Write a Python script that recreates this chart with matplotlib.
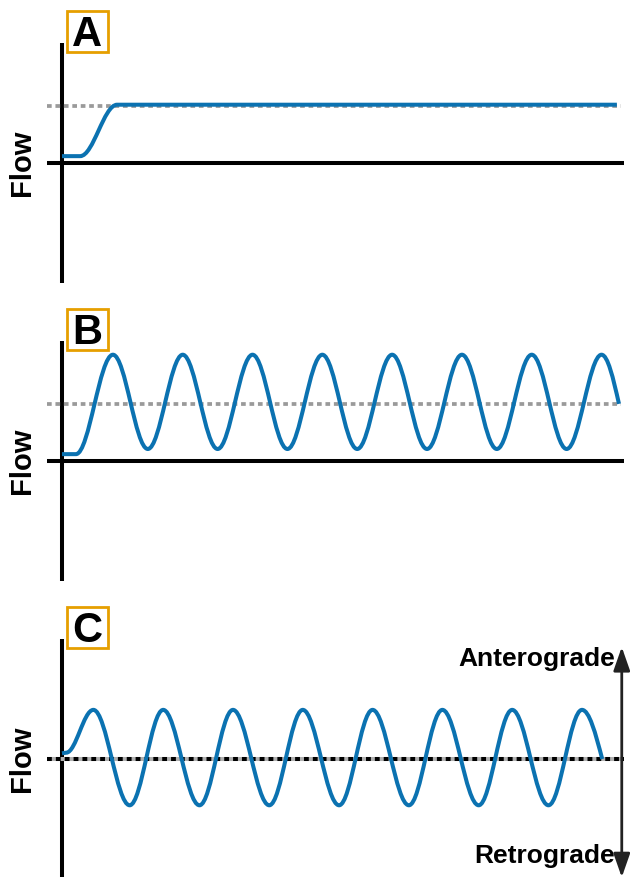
#!/usr/bin/env python3
import matplotlib
matplotlib.use("Agg")
import matplotlib.pyplot as plt
from matplotlib.path import Path
from matplotlib.patches import PathPatch, Rectangle

plt.rcParams['font.family'] = ['Liberation Sans', 'DejaVu Sans']

# time in cycles (one heartbeat = 1), flow in units of the mean flow
# A: steady flow
a_t = [0.0, 0.26, 0.79, 7.95]
a_flow = [0.12, 0.12, 1.02, 1.02]

# B: pulsatile flow, always anterograde
b_t = [0.0, 0.20, 0.73, 1.23, 1.73, 2.23, 2.73, 3.23, 3.73, 4.23, 4.73,
       5.23, 5.73, 6.23, 6.73, 7.23, 7.73, 7.98]
b_flow = [0.12, 0.12, 1.86, 0.21, 1.86, 0.21, 1.86, 0.21, 1.86, 0.21, 1.86,
          0.21, 1.86, 0.21, 1.86, 0.21, 1.86, 1.00]

# C: oscillatory flow around zero
c_t = [0.0, 0.06, 0.45, 0.97, 1.45, 1.97, 2.45, 2.97, 3.45, 3.97, 4.45,
       4.97, 5.45, 5.97, 6.45, 6.97, 7.45, 7.74]
c_flow = [0.10, 0.11, 0.86, -0.81, 0.86, -0.81, 0.86, -0.81, 0.86, -0.81,
          0.86, -0.81, 0.86, -0.81, 0.86, -0.81, 0.86, 0.00]

mean_flow = [1.0, 1.0, 0.0]
panel_labels = ["A", "B", "C"]
direction_labels = ["Anterograde", "Retrograde"]

BLUE = "#0b72b1"
ORANGE = "#e69f00"
GREY = "#9a9a9a"


def smooth_path(xs, ys, tail=False):
    """Join the turning points with S-shaped bezier pieces (flat at each knot)"""
    verts = [(xs[0], ys[0])]
    codes = [Path.MOVETO]
    n = len(xs) - 1
    for i in range(n):
        x0, y0, x1, y1 = xs[i], ys[i], xs[i + 1], ys[i + 1]
        dx = x1 - x0
        if tail and i == n - 1:
            # last quarter wave stops at its steepest point
            c1 = (x0 + 0.358 * dx, y0)
            c2 = (x0 + 0.666 * dx, y1 + 0.525 * (y0 - y1))
        else:
            c1 = (x0 + 0.363 * dx, y0)
            c2 = (x1 - 0.363 * dx, y1)
        verts += [c1, c2, (x1, y1)]
        codes += [Path.CURVE4] * 3
    return Path(verts, codes)


def draw_panel(ax, t, flow, mean, label, tail):
    ax.set_xlim(-0.888, 8.138)
    ax.set_ylim(-2.1, 2.1)
    ax.axis("off")

    # axes drawn by hand
    ax.plot([0, 0], [-2.1, 2.1], color="black", lw=2.9,
            solid_capstyle="butt", clip_on=False)
    if mean == 0.0:
        ax.plot([-0.215, 8.05], [0, 0], color="#b0b0b0", lw=2.9,
                solid_capstyle="butt")
        ax.plot([-0.215, 8.05], [0, 0], color="black", lw=2.9,
                linestyle=(0, (1.2, 1.0)), dash_capstyle="butt")
    else:
        ax.plot([-0.215, 8.05], [0, 0], color="black", lw=2.9,
                solid_capstyle="butt")
        ax.plot([-0.215, 8.01], [mean, mean], color=GREY, lw=2.7,
                linestyle=(0, (1.25, 1.0)), dash_capstyle="butt")

    patch = PathPatch(smooth_path(t, flow, tail), facecolor="none",
                      edgecolor=BLUE, lw=2.9, capstyle="butt",
                      joinstyle="round", zorder=3)
    ax.add_patch(patch)

    ax.text(-0.573, 0, "Flow", rotation=90, ha="center", va="center",
            fontsize=21, fontweight="bold")

    # panel letter in an orange box
    ax.add_patch(Rectangle((0.072, 1.947), 0.587, 0.72, facecolor="white",
                           edgecolor=ORANGE, lw=2.0, clip_on=False, zorder=4))
    ax.text(0.365, 2.04, label, ha="center", va="baseline", fontsize=30,
            fontweight="bold", clip_on=False, zorder=5)


fig = plt.figure(figsize=(6.3, 8.77), dpi=100)
h = 240 / 877
ax_a = fig.add_axes([0, 1 - 283 / 877, 1, h])
ax_b = fig.add_axes([0, 1 - 581 / 877, 1, h])
ax_c = fig.add_axes([0, 1 - 879 / 877, 1, h])

draw_panel(ax_a, a_t, a_flow, mean_flow[0], panel_labels[0], False)
draw_panel(ax_b, b_t, b_flow, mean_flow[1], panel_labels[1], True)
draw_panel(ax_c, c_t, c_flow, mean_flow[2], panel_labels[2], True)

# direction arrow for panel C
ax_c.annotate("", xy=(8.02, 1.96), xytext=(8.02, -2.07),
              arrowprops=dict(arrowstyle="<|-|>,head_length=0.8,head_width=0.28",
                              color="#222222", lw=2.0, mutation_scale=18,
                              shrinkA=0, shrinkB=0),
              annotation_clip=False)
ax_c.text(7.92, 1.63, direction_labels[0], ha="right", va="baseline",
          fontsize=19, fontweight="bold")
ax_c.text(7.92, -1.82, direction_labels[1], ha="right", va="baseline",
          fontsize=19, fontweight="bold")

fig.savefig("out.png", dpi=100)
print("Graph saved.")
